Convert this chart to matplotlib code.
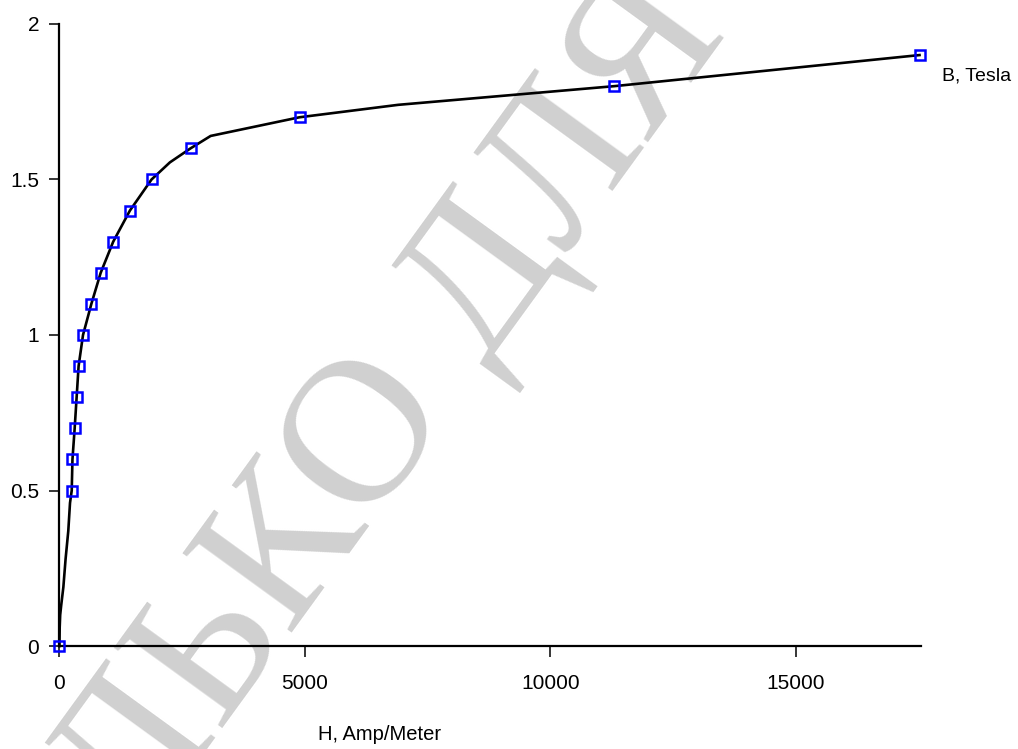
import matplotlib
matplotlib.use("Agg")
import matplotlib.pyplot as plt

# measured B-H points (markers)
H_pts = [0, 250, 265, 310, 350, 390, 480, 650, 840, 1095, 1435, 1876, 2670, 4890, 11300, 17520]
B_pts = [0, 0.5, 0.6, 0.7, 0.8, 0.9, 1.0, 1.1, 1.2, 1.3, 1.4, 1.5, 1.6, 1.7, 1.8, 1.9]

# magnetisation curve as drawn (line nodes)
H_curve = [0, 5, 15, 35, 80, 125, 180, 215, 250, 265, 310, 350, 390, 480, 650, 840, 1095,
           1435, 1876, 2250, 2670, 3080, 4890, 6900, 11300, 17520]
B_curve = [0, 0.06, 0.1, 0.13, 0.19, 0.28, 0.37, 0.46, 0.5, 0.6, 0.7, 0.8, 0.9, 1.0, 1.1, 1.2, 1.3,
           1.4, 1.5, 1.555, 1.6, 1.64, 1.7, 1.74, 1.8, 1.9]

x_ticks = [0, 5000, 10000, 15000]
y_ticks = [0, 0.5, 1, 1.5, 2]
y_labels = ['0', '0.5', '1', '1.5', '2']

plt.rcParams['font.family'] = ['Liberation Sans', 'DejaVu Sans']

fig = plt.figure(figsize=(10.18, 7.49), dpi=100)
ax = fig.add_axes([0.0584, 0.1375, 0.8463, 0.8305])

# watermark behind the plot
ax.text(0.3114, 0.3124, 'ТОЛЬКО ДЛЯ', transform=fig.transFigure,
        fontsize=148, family='Liberation Serif', color='#d0d0d0',
        rotation=54, rotation_mode='anchor', ha='center', va='center',
        zorder=0.5, clip_on=False)

ax.plot(H_curve, B_curve, color='black', lw=1.9, zorder=3, clip_on=False)
ax.plot(H_pts, B_pts, ls='none', marker='s', ms=7, mfc='none', mec='#0000ff',
        mew=1.8, zorder=4, clip_on=False)

ax.set_xlim(0, 17550)
ax.set_ylim(0, 2)
ax.set_xticks(x_ticks)
ax.set_yticks(y_ticks, y_labels)

for s in ['top', 'right']:
    ax.spines[s].set_visible(False)
for s in ['left', 'bottom']:
    ax.spines[s].set_linewidth(1.6)

ax.tick_params(axis='x', direction='out', length=8, width=1.1, pad=12, labelsize=15)
ax.tick_params(axis='y', direction='out', length=7.5, width=1.1, pad=7, labelsize=15)

ax.set_xlabel('H, Amp/Meter', fontsize=14.5)
ax.xaxis.set_label_coords((380 - 59.5) / 861.5, -0.127)

ax.annotate('B, Tesla', xy=(H_pts[-1], B_pts[-1]), xytext=(16, -15),
            textcoords='offset points', ha='left', va='center', fontsize=14,
            annotation_clip=False)

fig.savefig('out.png', dpi=100)
